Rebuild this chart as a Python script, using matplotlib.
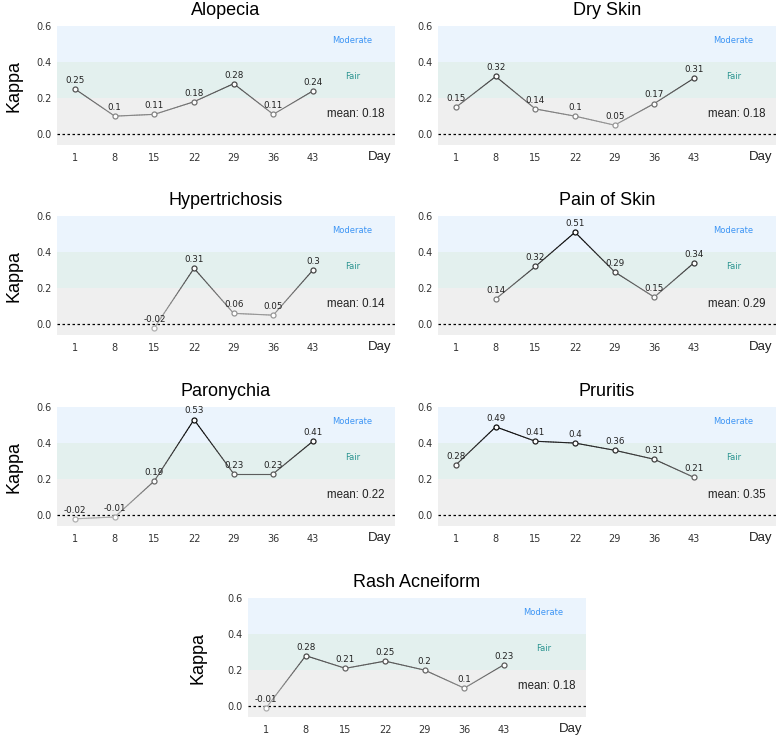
import numpy as np
import matplotlib
matplotlib.use("Agg")
import matplotlib.pyplot as plt
from matplotlib.collections import LineCollection

plt.rcParams['font.family'] = ['Liberation Sans', 'DejaVu Sans']

days = [1, 8, 15, 22, 29, 36, 43]
titles = ["Alopecia", "Dry Skin", "Hypertrichosis", "Pain of Skin",
          "Paronychia", "Pruritis", "Rash Acneiform"]
alopecia = [0.25, 0.1, 0.11, 0.18, 0.28, 0.11, 0.24]
dry_skin = [0.15, 0.32, 0.14, 0.1, 0.05, 0.17, 0.31]
hypertrichosis = [None, None, -0.02, 0.31, 0.06, 0.05, 0.3]
pain_of_skin = [None, 0.14, 0.32, 0.51, 0.29, 0.15, 0.34]
paronychia = [-0.02, -0.01, 0.19, 0.53, 0.23, 0.23, 0.41]
pruritis = [0.28, 0.49, 0.41, 0.4, 0.36, 0.31, 0.21]
rash_acneiform = [-0.01, 0.28, 0.21, 0.25, 0.2, 0.1, 0.23]
means = [0.18, 0.18, 0.14, 0.29, 0.22, 0.35, 0.18]
series = [alopecia, dry_skin, hypertrichosis, pain_of_skin,
          paronychia, pruritis, rash_acneiform]

W, H = 778, 737
fig = plt.figure(figsize=(W / 100, H / 100), dpi=100)

tops = [26, 216, 407, 598]
ph = 119
pw = 338
positions = [(57, tops[0]), (438, tops[0]), (57, tops[1]), (438, tops[1]),
             (57, tops[2]), (438, tops[2]), (248, tops[3])]
show_ylab = [True, False, True, False, True, False, True]

SMALL = 'DejaVu Sans'


def gray_of(v):
    g = np.clip(0.66 - 1.3 * v, 0.05, 0.7)
    return (g, g, g)


for k, (title, vals, m) in enumerate(zip(titles, series, means)):
    lx, ty = positions[k]
    ax = fig.add_axes([lx / W, (H - ty - ph) / H, pw / W, ph / H])
    ax.set_xlim(-2.2, 57.5)
    ax.set_ylim(-0.06, 0.6)
    ax.axhspan(-0.06, 0.2, color='#efefef', lw=0, zorder=0)
    ax.axhspan(0.2, 0.4, color='#e3f0ee', lw=0, zorder=0)
    ax.axhspan(0.4, 0.6, color='#ebf4fd', lw=0, zorder=0)
    ax.axhline(0, color='black', lw=0.9, ls=(0, (2, 2)), zorder=1)
    ax.text(50, 0.52, "Moderate", color='#3d95f5', fontsize=6,
            family=SMALL, ha='center', va='center')
    ax.text(50, 0.32, "Fair", color='#2a9490', fontsize=6,
            family=SMALL, ha='center', va='center')
    ax.text(50.5, 0.11, "mean: %.2f" % m, color='#222222', fontsize=8.3,
            ha='center', va='center')

    xs = [d for d, v in zip(days, vals) if v is not None]
    ys = [v for v in vals if v is not None]
    segs, cols = [], []
    n = 24
    for i in range(len(xs) - 1):
        tx = np.linspace(xs[i], xs[i + 1], n + 1)
        tyv = np.linspace(ys[i], ys[i + 1], n + 1)
        for j in range(n):
            segs.append([(tx[j], tyv[j]), (tx[j + 1], tyv[j + 1])])
            cols.append(gray_of((tyv[j] + tyv[j + 1]) / 2))
    ax.add_collection(LineCollection(segs, colors=cols, linewidths=0.8,
                                     zorder=2, capstyle='round'))
    for x, y in zip(xs, ys):
        ax.plot([x], [y], marker='o', ms=3.6, mfc='white', mec=gray_of(y),
                mew=0.9, zorder=3, ls='none')
        lab = ("%.2f" % y).rstrip('0').rstrip('.') if y != 0 else "0"
        ax.annotate(lab, (x, y), xytext=(0, 3.0), textcoords='offset points',
                    ha='center', va='bottom', fontsize=6.3, family=SMALL,
                    color='#222222', zorder=4)

    ax.set_xticks(days)
    ax.set_xticklabels([str(d) for d in days], family=SMALL)
    ax.set_yticks([0.0, 0.2, 0.4, 0.6])
    ax.set_yticklabels(["0.0", "0.2", "0.4", "0.6"], family=SMALL)
    ax.tick_params(length=0, labelsize=7, labelcolor='#333333', pad=3.6)
    ax.tick_params(axis='x', pad=6)
    for s in ax.spines.values():
        s.set_visible(False)
    ax.set_title(title, fontsize=13, pad=8, color='black')
    if show_ylab[k]:
        ax.set_ylabel("Kappa", fontsize=13, color='black')
        off = 34 if k < 6 else 42
        ax.yaxis.set_label_coords(-off / pw, 0.5)
    ax.set_xlabel("Day", fontsize=9.5, color='#222222', loc='right',
                  labelpad=-11)
    ax.xaxis.set_label_coords(1.0 - 4 / pw, -12 / ph)
    ax.xaxis.label.set_va('center')

fig.savefig("out.png", dpi=100)
